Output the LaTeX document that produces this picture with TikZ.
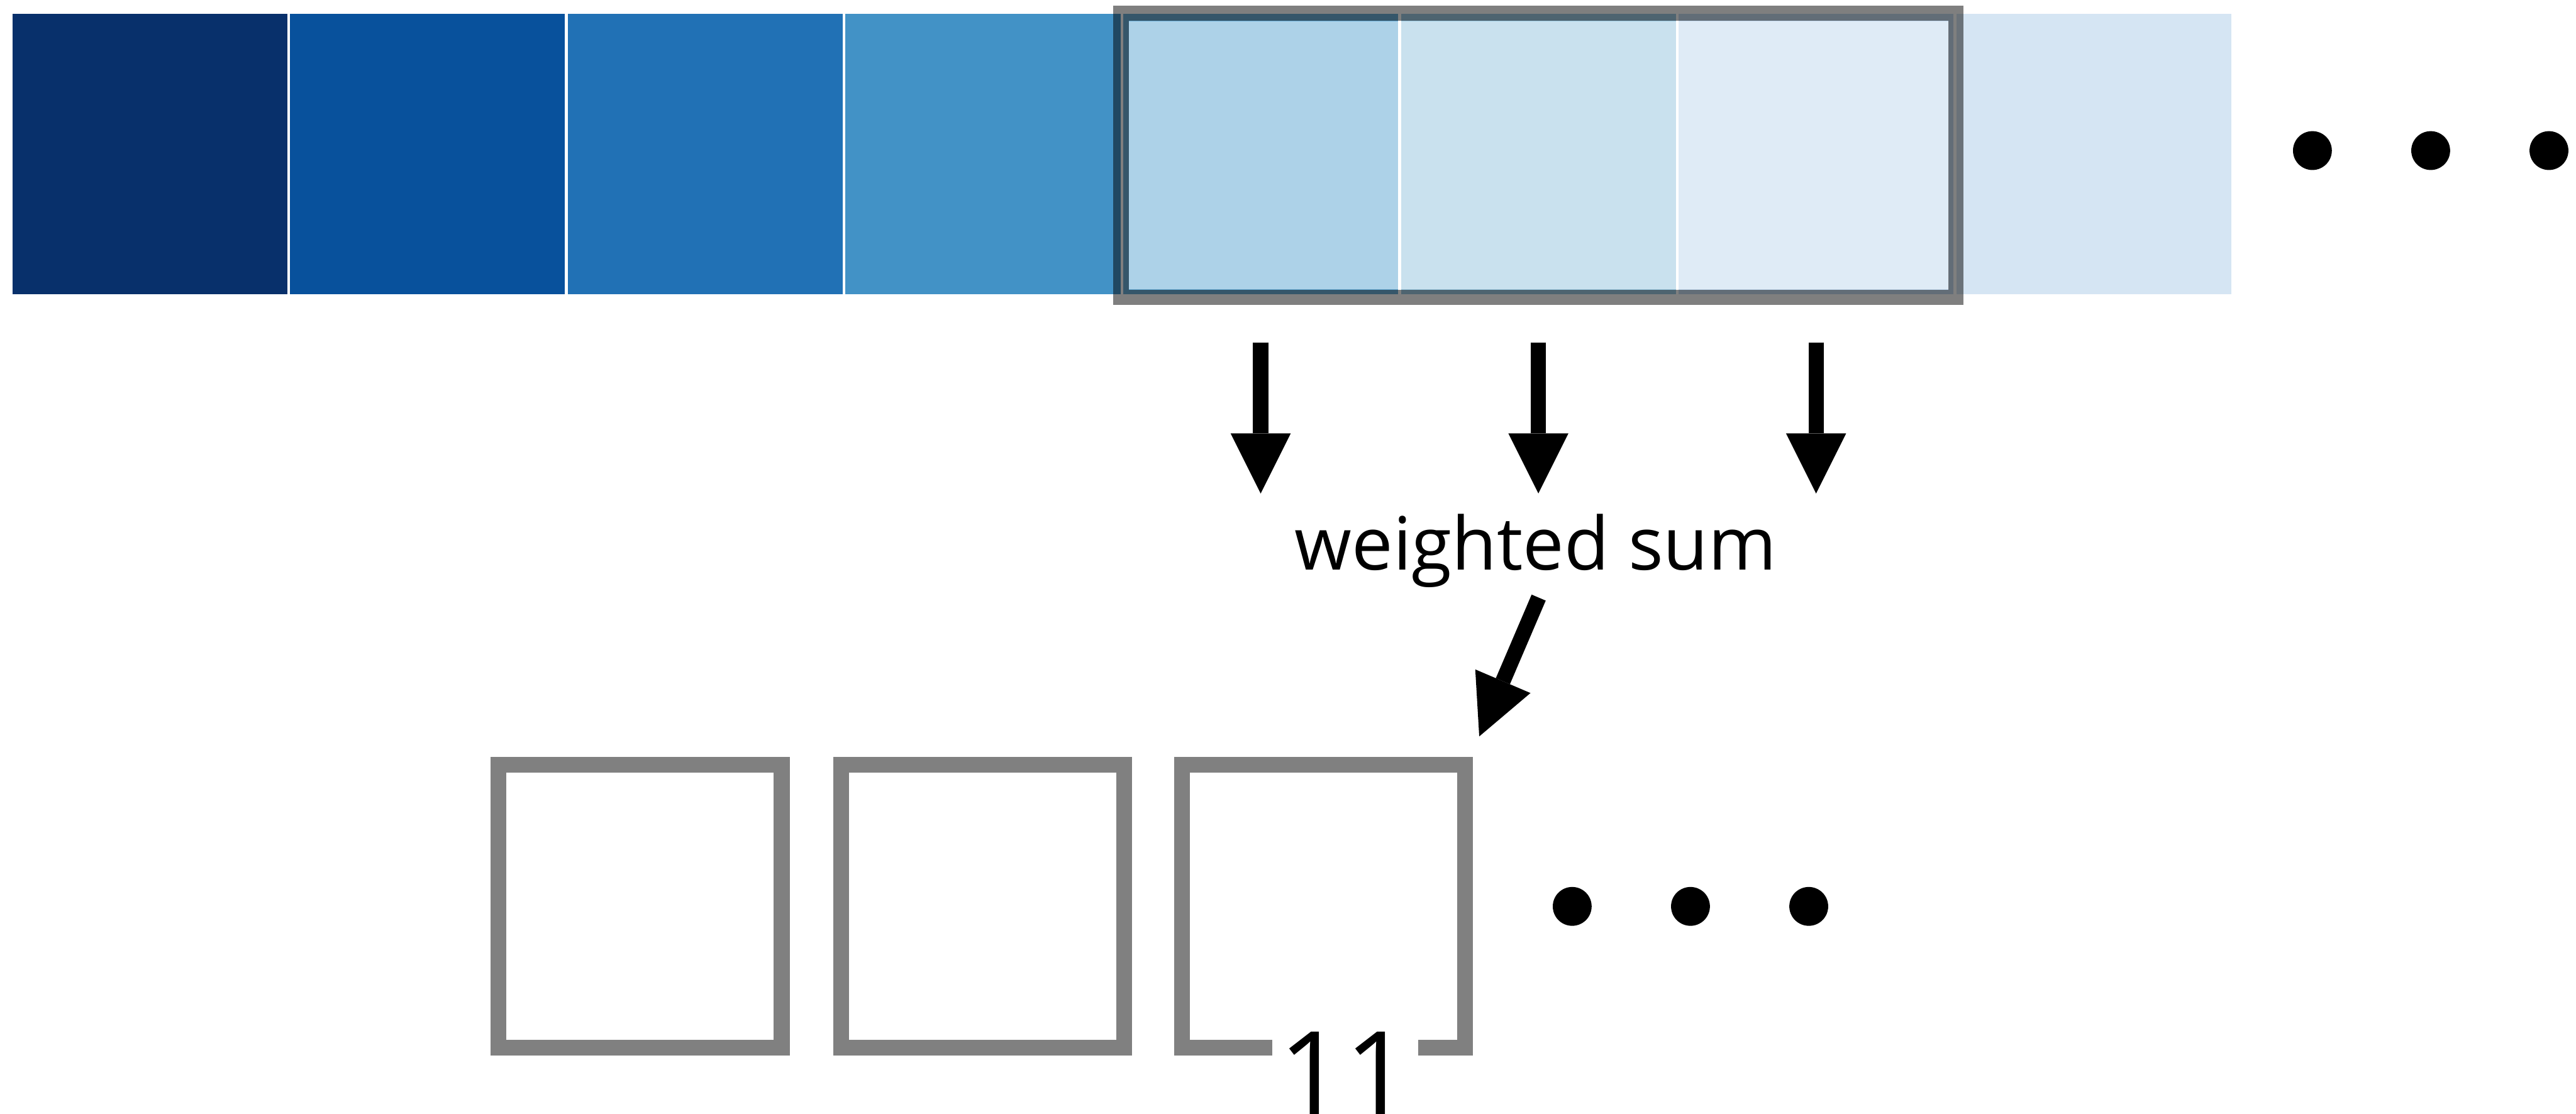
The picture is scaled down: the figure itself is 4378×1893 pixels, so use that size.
\documentclass[tikz,border=0pt]{standalone}
\usepackage{fontspec}
\setmainfont{Open Sans}
\usetikzlibrary{arrows.meta}
\definecolor{blueA}{HTML}{08306B}
\definecolor{blueB}{HTML}{08519C}
\definecolor{blueC}{HTML}{2171B5}
\definecolor{blueD}{HTML}{4292C6}
\definecolor{blueE}{HTML}{6BAED6}
\definecolor{blueF}{HTML}{9ECAE1}
\definecolor{blueG}{HTML}{C6DBEF}
\definecolor{blueH}{HTML}{D5E5F3}
\definecolor{boxgray}{HTML}{808080}
\begin{document}
\begin{tikzpicture}[x=0.01cm,y=-0.01cm,
  cell/.style={inner sep=0pt, minimum width=4.67cm, minimum height=4.76cm},
  outbox/.style={draw=boxgray, line width=0.27cm, inner sep=0pt, minimum size=4.81cm},
  dot/.style={circle, fill=black, inner sep=0pt, minimum size=0.66cm},
  arr/.style={line width=0.26cm, -{Triangle[length=1.02cm,width=1.02cm,line width=0pt]}},
]
\useasboundingbox (0,0) rectangle (4378,1893);

% input sequence
\foreach \i/\c in {1/blueA,2/blueB,3/blueC,4/blueD,5/blueE,6/blueF,7/blueG,8/blueH}
  \node[cell, fill=\c] (c\i) at ({254.5+472*(\i-1)},262) {};

\node[dot] (td1) at (3930,256) {};
\node[dot] (td2) at (4131,256) {};
\node[dot] (td3) at (4332,256) {};

% window over cells 5..7
\fill[white, fill opacity=0.45] ([shift={(10,13)}]c5.north west) rectangle ([shift={(-9,-9)}]c7.south east);
\draw[black, draw opacity=0.5, line width=0.26cm] ([shift={(-3,-0.5)}]c5.north west) rectangle ([shift={(3.5,4.5)}]c7.south east);

% weighted sum
\node[anchor=base, inner sep=0pt, font=\fontsize{35.5pt}{42pt}\selectfont] (ws) at (2610,969) {weighted sum};
\foreach \i in {5,6,7}
  \draw[arr] (c\i.south |- 0,582) -- (c\i.south |- 0,839);

% output sequence
\node[outbox] (b1) at (1088,1540.5) {};
\node[outbox] (b2) at (1670,1540.5) {};
\node[outbox] (b3) at (2249.5,1540.5) {};
\node[fill=white, inner sep=0pt, minimum width=2.48cm, text height=1.5cm, text depth=0.2cm,
      anchor=base, font=\fontsize{55.8pt}{60pt}\selectfont] (n11) at (2286,1894) {11};

\coordinate (ws-out) at (2615,1016);
\coordinate (b3-in) at (2514,1252);
\draw[arr] (ws-out) -- (b3-in);

\node[dot] (bd1) at (2672,1541) {};
\node[dot] (bd2) at (2873,1541) {};
\node[dot] (bd3) at (3074,1541) {};
\end{tikzpicture}
\end{document}
